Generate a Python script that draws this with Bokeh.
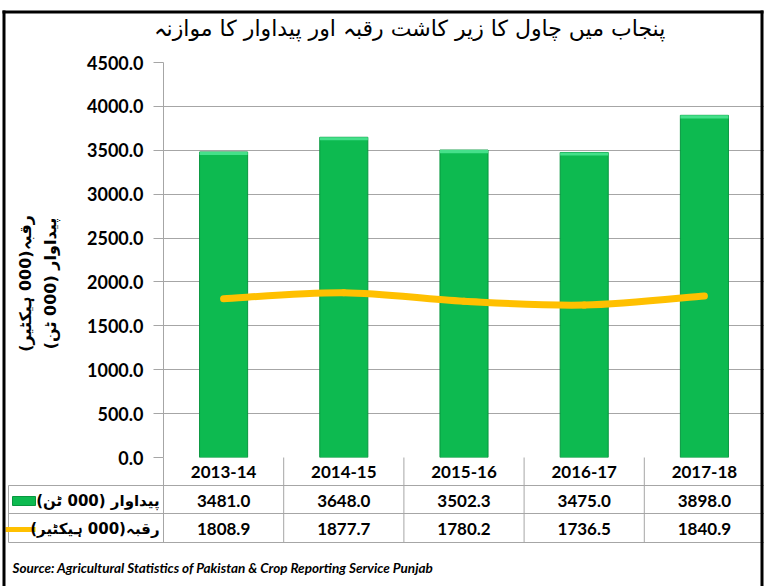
import math
from bokeh.plotting import figure
from bokeh.models import (Range1d, SingleIntervalTicker, PrintfTickFormatter, ColumnDataSource)
from bokeh.core.properties import value
from bokeh.embed import file_html
from bokeh.resources import INLINE

# ---- data ----
categories = ["2013-14", "2014-15", "2015-16", "2016-17", "2017-18"]
production = [3481.0, 3648.0, 3502.3, 3475.0, 3898.0]   # پیداوار (000 ٹن)
area = [1808.9, 1877.7, 1780.2, 1736.5, 1840.9]         # رقبہ (000 ہیکٹیر)
y_max = 4500
y_step = 500

title_text = "پنجاب میں چاول کا زیر کاشت رقبہ اور پیداوار کا موازنہ"
prod_label = "پیداوار (000 ٹن)"
area_label = "رقبہ(000 ہیکٹیر)"
source_text = "Source: Agricultural Statistics of Pakistan & Crop Reporting Service Punjab"

# ---- layout (canvas pixels) ----
W, H = 764, 586
FL, FR, FT, FB = 163, 764, 62, 457
GRID = "#A6A6A6"
GREEN = "#0DBA50"
ORANGE = "#FFC000"
NUM_FONT = "Lato"
URDU_FONT = "DejaVu Sans"

ncat = len(categories)
pos = [i + 0.5 for i in range(ncat)]   # category centres on the x scale

p = figure(width=W, height=H,
           x_range=Range1d(0, ncat),
           y_range=Range1d(0, y_max),
           output_backend="svg", toolbar_location=None, x_axis_location=None,
           min_border_left=FL, min_border_right=W - FR,
           min_border_top=FT, min_border_bottom=H - FB)
p.outline_line_color = None
p.background_fill_color = "white"
p.border_fill_color = "white"
p.extra_x_ranges = {"px": Range1d(FL, FR)}
p.extra_y_ranges = {"py": Range1d(FB, FT)}
PX = dict(x_range_name="px", y_range_name="py", level="overlay")

# y axis
ax = p.yaxis[0]
ax.ticker = SingleIntervalTicker(interval=y_step)
ax.formatter = PrintfTickFormatter(format="%.1f")
ax.major_label_text_font = NUM_FONT
ax.major_label_text_font_style = "bold"
ax.major_label_text_font_size = "18px"
ax.major_label_text_color = "black"
ax.axis_line_color = GRID
ax.major_tick_line_color = GRID
ax.major_tick_out = 10
ax.major_tick_in = 0
ax.minor_tick_line_color = None
ax.major_label_standoff = 10

p.xgrid.grid_line_color = None
p.ygrid.grid_line_color = GRID
p.ygrid.ticker = SingleIntervalTicker(interval=y_step)

# bars (with a light bevel strip at the top)
bevel = 35
src = ColumnDataSource(dict(x=pos, cat=categories, prod=production, area=area,
                            bev=[v - bevel for v in production]))
p.vbar(x="x", top="prod", width=0.4, source=src, fill_color=GREEN,
       line_color="#08963F", line_width=1)
p.vbar(x="x", top="prod", bottom="bev", width=0.4, source=src, fill_color="#45E08A",
       line_color=None)

# smoothed line (Bezier segments through the data points)
xs = pos
ys = area
n = len(xs)
bx0, by0, bx1, by1, c0x, c0y, c1x, c1y = [], [], [], [], [], [], [], []
for i in range(n - 1):
    xm, ym = (xs[i - 1], ys[i - 1]) if i > 0 else (xs[i], ys[i])
    xp2, yp2 = (xs[i + 2], ys[i + 2]) if i + 2 < n else (xs[i + 1], ys[i + 1])
    bx0.append(xs[i]); by0.append(ys[i])
    bx1.append(xs[i + 1]); by1.append(ys[i + 1])
    c0x.append(xs[i] + (xs[i + 1] - xm) / 6); c0y.append(ys[i] + (ys[i + 1] - ym) / 6)
    c1x.append(xs[i + 1] - (xp2 - xs[i]) / 6); c1y.append(ys[i + 1] - (yp2 - ys[i]) / 6)
p.bezier(x0=bx0, y0=by0, x1=bx1, y1=by1, cx0=c0x, cy0=c0y, cx1=c1x, cy1=c1y,
         line_color=ORANGE, line_width=7, line_cap="round")

# ---- table ----
ROW_Y = [471, 500, 528]
H_LINES = [485, 513, 542]
T_LEFT = 8
p.segment(x0=[T_LEFT] * 3, x1=[FR] * 3, y0=H_LINES, y1=H_LINES,
          line_color=GRID, line_width=1, **PX)
vb = list(range(ncat))
p.segment(x0=vb, x1=vb, y0=[FB] * ncat, y1=[H_LINES[-1]] * ncat,
          line_color=GRID, line_width=1, y_range_name="py", level="overlay")
p.segment(x0=[T_LEFT], x1=[T_LEFT], y0=[H_LINES[0]], y1=[H_LINES[-1]],
          line_color=GRID, line_width=1, **PX)

p.text(x=pos * 3,
       y=[ROW_Y[0]] * ncat + [ROW_Y[1]] * ncat + [ROW_Y[2]] * ncat,
       text=categories + ["%.1f" % v for v in production] + ["%.1f" % v for v in area],
       y_range_name="py", level="overlay",
       text_align="center", text_baseline="middle",
       text_font=value(NUM_FONT), text_font_style="bold",
       text_font_size="17px", text_color="black")

# legend keys in the table
p.quad(left=[12], right=[35], top=[ROW_Y[1] - 4], bottom=[ROW_Y[1] + 5],
       fill_color=GREEN, line_color="#08963F", **PX)
p.segment(x0=[5], x1=[35], y0=[ROW_Y[2] + 1], y1=[ROW_Y[2] + 1],
          line_color=ORANGE, line_width=5, **PX)
p.text(x=[159, 159], y=[ROW_Y[1], ROW_Y[2]], text=[prod_label, area_label],
       text_align="right", text_baseline="middle",
       text_font=value(URDU_FONT), text_font_style="bold",
       text_font_size="15px", text_color="black", **PX)

# title
p.text(x=[409], y=[28], text=[title_text], text_align="center", text_baseline="middle",
       text_font=value(URDU_FONT), text_font_size="22px", text_color="black", **PX)

# y axis labels (rotated)
p.text(x=[25, 50], y=[283, 283], text=[area_label, prod_label], angle=math.pi / 2,
       text_align="center", text_baseline="middle",
       text_font=value(URDU_FONT), text_font_style="bold",
       text_font_size="16px", text_color="black", **PX)

# source
p.text(x=[12], y=[567], text=[source_text], text_align="left", text_baseline="middle",
       text_font=value(NUM_FONT), text_font_style="bold italic",
       text_font_size="13.5px", text_color="black", **PX)

# outer border
p.quad(left=[2, 2, 760], right=[5, 763, 763], top=[10, 10, 10], bottom=[H, 13, H],
       fill_color="black", line_color=None, **PX)

open("out.html", "w").write(file_html(p, INLINE))
